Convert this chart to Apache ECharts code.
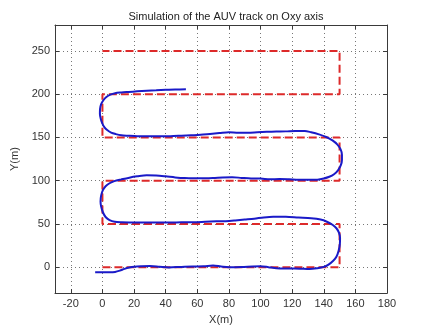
<!DOCTYPE html>
<html>
<head>
<meta charset="utf-8">
<script src="https://cdn.jsdelivr.net/npm/echarts@6/dist/echarts.min.js"></script>
<style>html,body{margin:0;padding:0;background:#fff}#c{width:427px;height:330px}</style>
</head>
<body>
<div id="c"></div>
<script>
const titleText = 'Simulation of the AUV track on Oxy axis';
const xTicks = [-20, 0, 20, 40, 60, 80, 100, 120, 140, 160, 180];
const yTicks = [0, 50, 100, 150, 200, 250];

const refX = [0, 150, 150, 0, 0, 150, 150, 0, 0, 150, 150, 0];
const refY = [0, 0, 50, 50, 100, 100, 150, 150, 200, 200, 250, 250];

const trackX = [-4.6, 0, 5, 8, 11, 14, 17, 20, 25, 30, 36, 42, 50, 57, 64, 70, 75, 80, 88, 95, 100, 105, 110, 118, 125, 131, 136, 140, 143, 146, 148, 149.4, 150.2, 150.3, 149.6, 148, 145.5, 142, 138, 132, 124, 116, 108, 102, 96, 90, 84, 78, 72, 65, 58, 50, 40, 30, 20, 12, 7.8, 4.5, 2, 0.3, -0.8, -1.2, -0.8, 0.3, 2, 4.5, 7.5, 12, 17, 22, 28, 34, 40, 46, 52, 58, 64, 70, 76, 82, 88, 94, 100, 106, 112, 118, 124, 130, 136, 140, 143.5, 146.5, 149, 150.8, 151.5, 151.5, 150.6, 148.5, 145.5, 141.5, 137, 132, 128, 122, 116, 110, 104, 98, 92, 86, 80, 74, 68, 62, 56, 50, 43, 35, 28, 22, 16, 12, 8.5, 5.5, 3, 1.2, 0, -1, -1.6, -1.5, -0.8, 0.6, 2.5, 5, 8, 12, 16.5, 22, 28, 34, 40, 46, 52.8];
const trackY = [-6, -6, -6, -5.5, -4, -2, -0.5, 0.5, 1, 1.2, 0.5, -0.3, 0.3, 0.8, 1, 1.8, 0.8, 0, 0.2, 0.8, 1, 0, -1.2, -1.5, -1.8, -2.2, -1.2, 0.3, 3, 7.5, 12, 19, 27, 34, 40, 45, 49, 52.5, 55, 56.5, 57.3, 58.2, 58.3, 57.5, 56, 55, 54, 53.2, 53, 52.5, 52, 51.8, 51.5, 51.5, 51.7, 52, 52.5, 54.5, 58, 63.5, 70, 76, 83, 89, 93.5, 97, 99.5, 101.5, 103.5, 105, 106.3, 106, 105, 103.8, 103, 102.8, 102.8, 103, 103.8, 104, 103.2, 102.5, 102.4, 101.5, 101.8, 101.5, 101, 101, 101.2, 102.5, 104.5, 107.5, 112, 118, 124, 130, 136.5, 142, 146.5, 150.5, 153.5, 156, 157.5, 157.5, 157, 156.8, 156.5, 156, 155.5, 155.5, 156, 155, 154, 153, 152.5, 152, 151.5, 151.5, 151.5, 151.5, 152, 152.5, 153.8, 155.5, 158.5, 162, 166, 171, 177, 183, 188.5, 193, 196.8, 199.5, 201.2, 202, 202.6, 203.3, 204, 204.5, 205, 205.4, 205.6];

const refData = refX.map((x, i) => [x, refY[i]]);
const trackData = trackX.map((x, i) => [x, trackY[i]]);

const font = 'Liberation Sans';
const frameColor = '#3a3a3a';
const gridLine = { show: true, lineStyle: { color: '#777', width: 1, type: [1, 3] } };

function xAx(pos, labels) {
  return {
    type: 'value', position: pos, min: -30, max: 180,
    name: labels ? 'X(m)' : '', nameLocation: 'middle', nameGap: 17,
    nameTextStyle: { fontFamily: font, fontSize: 11, color: '#333' },
    axisLine: { show: true, onZero: false, lineStyle: { color: frameColor, width: 1 } },
    axisTick: { show: true, inside: true, length: 4, customValues: xTicks, lineStyle: { color: frameColor } },
    axisLabel: { show: labels, customValues: xTicks, fontFamily: font, fontSize: 11, color: '#333', margin: 5 },
    splitLine: labels ? gridLine : { show: false }
  };
}
function yAx(pos, labels) {
  return {
    type: 'value', position: pos, min: -30, max: 280,
    name: labels ? 'Y(m)' : '', nameLocation: 'middle', nameGap: 25,
    nameTextStyle: { fontFamily: font, fontSize: 11, color: '#333' },
    axisLine: { show: true, onZero: false, lineStyle: { color: frameColor, width: 1 } },
    axisTick: { show: true, inside: true, length: 4, customValues: yTicks, lineStyle: { color: frameColor } },
    axisLabel: { show: labels, customValues: yTicks, fontFamily: font, fontSize: 11, color: '#333', margin: 5 },
    splitLine: labels ? gridLine : { show: false }
  };
}

const chart = echarts.init(document.getElementById('c'), null, { renderer: 'canvas' });
chart.setOption({
  backgroundColor: '#fff',
  animation: false,
  title: {
    text: titleText, left: 221, top: 6, textAlign: 'center',
    textStyle: { fontFamily: font, fontSize: 11, fontWeight: 'normal', color: '#222' }
  },
  grid: { left: 55, right: 40, top: 25, bottom: 36 },
  xAxis: [xAx('bottom', true), xAx('top', false)],
  yAxis: [yAx('left', true), yAx('right', false)],
  series: [
    {
      type: 'line', data: refData, xAxisIndex: 0, yAxisIndex: 0,
      showSymbol: false, symbol: 'none',
      lineStyle: { color: '#dd2a2a', width: 2, type: [8, 4] },
      z: 2
    },
    {
      type: 'line', data: trackData, xAxisIndex: 0, yAxisIndex: 0,
      showSymbol: false, symbol: 'none', smooth: 0.3,
      lineStyle: { color: '#1a1ac8', width: 2 },
      z: 3
    }
  ]
});
</script>
</body>
</html>
